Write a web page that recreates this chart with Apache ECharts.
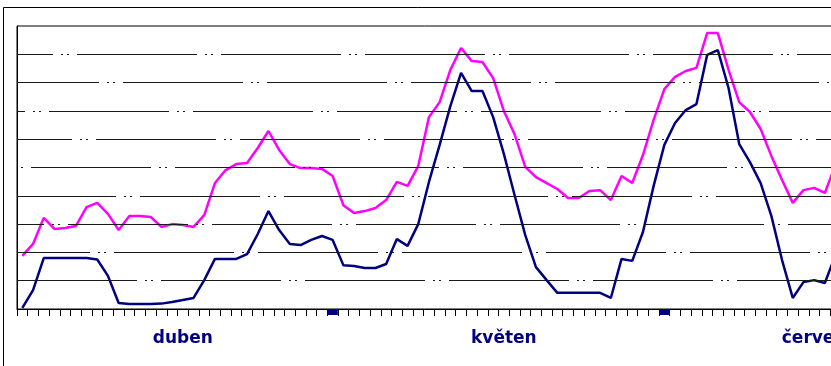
<!DOCTYPE html>
<html>
<head>
<meta charset="utf-8">
<script src="https://cdn.jsdelivr.net/npm/echarts@6/dist/echarts.min.js"></script>
<style>
  html, body { margin: 0; padding: 0; background: #fff; }
  #chart { width: 831px; height: 366px; }
</style>
</head>
<body>
<div id="chart"></div>
<script>
// Daily categories, 1 April to 16 June
const days = [];
const monthLengths = [[4, 30], [5, 31], [6, 16]];
for (const [m, n] of monthLengths) {
  for (let d = 1; d <= n; d++) days.push(d + '.' + m + '.');
}

// Month names shown under the axis, keyed by category index
const monthLabels = { 15: 'duben', 45: 'květen', 74: 'červen' };

// Month-end markers on the axis
const monthEnds = [29, 60];

// Horizontal grid levels
const gridLevels = [10, 20, 30, 40, 50, 60, 70, 80, 90];

// Upper curve (magenta)
const upper = [
  18.8, 23.0, 32.2, 28.3, 28.6, 29.3, 36.0, 37.5, 33.6, 27.9,
  32.9, 32.9, 32.5, 29.0, 30.0, 29.7, 29.0, 33.2, 44.5, 49.1,
  51.2, 51.6, 56.9, 62.9, 56.2, 51.2, 49.8, 49.8, 49.5, 47.0,
  36.7, 33.9, 34.6, 35.7, 38.5, 44.9, 43.5, 50.5, 67.8, 73.1,
  84.5, 92.2, 87.6, 87.3, 81.6, 70.0, 61.8, 50.2, 46.6, 44.5,
  42.4, 39.2, 39.2, 41.7, 42.0, 38.5, 47.0, 44.5, 54.4, 66.8,
  77.7, 82.0, 84.1, 85.2, 97.5, 97.5, 84.5, 73.1, 69.6, 63.6,
  54.1, 45.6, 37.5, 42.0, 42.8, 41.0, 50.9
];

// Lower curve (navy)
const lower = [
  0.4, 6.7, 18.0, 18.0, 18.0, 18.0, 18.0, 17.5, 11.7, 2.1,
  1.8, 1.8, 1.8, 1.9, 2.5, 3.2, 3.9, 10.2, 17.7, 17.7,
  17.7, 19.4, 26.5, 34.6, 27.9, 23.0, 22.6, 24.4, 25.8, 24.4,
  15.5, 15.2, 14.5, 14.5, 15.9, 24.7, 22.3, 30.0, 44.9, 58.0,
  71.7, 83.4, 77.0, 77.0, 67.8, 54.8, 40.3, 26.1, 14.8, 10.2,
  5.7, 5.7, 5.7, 5.7, 5.7, 3.9, 17.7, 17.0, 27.2, 43.5,
  58.0, 65.7, 70.3, 72.4, 89.8, 91.5, 78.1, 58.3, 51.9, 44.5,
  32.9, 17.3, 3.9, 9.5, 10.2, 9.2, 19.1
];

const NAVY = '#000080';
const MAGENTA = '#ff00ff';
const catWidth = 10.7;

// Each grid line starts its dash pattern at a different phase
const dashPhases = [0, 47, 93, 21, 130, 65, 112, 38, 84];
const dashPattern = [120, 8, 2, 4, 2, 8];

const chart = echarts.init(document.getElementById('chart'), null, { renderer: 'canvas' });

chart.setOption({
  animation: false,
  backgroundColor: '#fff',
  grid: {
    left: 17,
    top: 26,
    width: catWidth * days.length,
    height: 283,
    show: true,
    borderColor: '#000',
    borderWidth: 1,
    backgroundColor: 'transparent',
    outerBoundsMode: 'none',
    containLabel: false
  },
  graphic: [{
    type: 'rect',
    shape: { x: 3.5, y: 7.5, width: 900, height: 400 },
    style: { fill: 'none', stroke: '#000', lineWidth: 1 },
    silent: true,
    z: -1
  }],
  xAxis: [{
    type: 'category',
    data: days,
    boundaryGap: true,
    axisLine: { show: true, lineStyle: { color: '#000', width: 1 } },
    axisTick: { show: true, interval: 0, length: 7, lineStyle: { color: '#000', width: 1 } },
    axisLabel: {
      show: true,
      interval: (i) => monthLabels[i] !== undefined,
      formatter: (v, i) => monthLabels[i] || '',
      color: NAVY,
      fontFamily: 'DejaVu Sans',
      fontWeight: 'bold',
      fontSize: 17,
      margin: 21
    },
    splitLine: { show: false }
  }, {
    type: 'category',
    data: days,
    position: 'bottom',
    boundaryGap: true,
    axisLine: { show: false },
    axisTick: {
      show: true,
      alignWithLabel: true,
      interval: (i) => monthEnds.includes(i),
      length: 6,
      lineStyle: { color: NAVY, width: catWidth }
    },
    axisLabel: { show: false },
    splitLine: { show: false }
  }],
  yAxis: {
    type: 'value',
    min: 0,
    max: 100,
    interval: 10,
    axisLine: { show: true, lineStyle: { color: '#000', width: 1 } },
    axisTick: { show: false },
    axisLabel: { show: false },
    splitLine: { show: false }
  },
  series: [{
    name: 'mřížka',
    type: 'line',
    data: [],
    z: 1,
    silent: true,
    markLine: {
      silent: true,
      symbol: 'none',
      label: { show: false },
      animation: false,
      data: gridLevels.map((v, k) => ({
        yAxis: v,
        lineStyle: {
          color: '#1a1a1a',
          width: 1,
          type: dashPattern,
          dashOffset: dashPhases[k]
        }
      }))
    }
  }, {
    name: 'horní',
    type: 'line',
    data: upper,
    showSymbol: false,
    symbol: 'none',
    lineStyle: { color: MAGENTA, width: 2.5 },
    z: 3
  }, {
    name: 'dolní',
    type: 'line',
    data: lower,
    showSymbol: false,
    symbol: 'none',
    lineStyle: { color: NAVY, width: 2.5 },
    z: 4
  }]
});
</script>
</body>
</html>
